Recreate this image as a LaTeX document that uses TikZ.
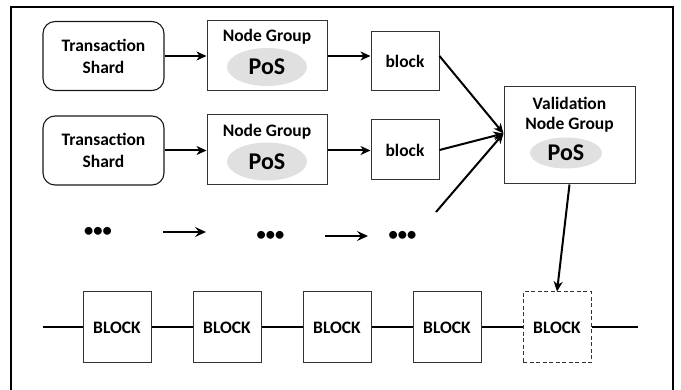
\documentclass[tikz,border=0pt]{standalone}
\usepackage{fontspec}
\setmainfont{Carlito}
\usetikzlibrary{shapes.geometric,arrows.meta}
\begin{document}
\begin{tikzpicture}[x=1pt,y=-1pt,
  lbl/.style={font=\bfseries\fontsize{17.5}{22}\selectfont, inner sep=0pt, align=center},
  shard/.style={draw=black!90, line width=1.1pt, rounded corners=12pt, minimum width=121pt, minimum height=69pt, lbl},
  grpbox/.style={draw=black!80, line width=1pt, minimum width=120pt, minimum height=70pt, inner sep=0pt},
  blk/.style={draw=black!80, line width=1pt, minimum width=68pt, minimum height=60pt, lbl},
  chainblk/.style={draw=black!80, line width=1pt, minimum width=68pt, minimum height=71pt, lbl},
  posell/.style={ellipse, fill=black!12, inner sep=0pt, font=\bfseries\fontsize{24}{26}\selectfont},
  dotsnode/.style={font=\bfseries\fontsize{18.5}{20}\selectfont, inner sep=0pt},
  arr/.style={line width=2pt, -{Stealth[length=10pt,width=9pt,inset=3pt]}},
  thinarr/.style={line width=1.6pt, -{Stealth[length=11pt,width=10pt,inset=4pt]}},
  chain/.style={line width=2pt}
]
\useasboundingbox (0,0) rectangle (681,390);
% outer frame
\draw[line width=1.4pt] (11,400) -- (11,7) -- (673,7) -- (673,400);

% row 1
\node[shard] (s1) at (103.5,56) {Transaction\\Shard};
\node[grpbox] (g1) at (267,55.5) {};
\node[lbl] (g1t) at (267,37) {Node Group};
\node[posell, minimum width=80pt, minimum height=38pt] (g1p) at (267,67) {PoS};
\node[blk, minimum height=59pt] (b1) at (405,61.5) {block};

% row 2
\node[shard] (s2) at (103.5,150.5) {Transaction\\Shard};
\node[grpbox] (g2) at (267,149.5) {};
\node[lbl] (g2t) at (267,132) {Node Group};
\node[posell, minimum width=80pt, minimum height=38pt] (g2p) at (267,161.5) {PoS};
\node[blk] (b2) at (405,150) {block};

% validation
\node[grpbox, minimum width=131pt, minimum height=97pt] (v) at (569.5,135.5) {};
\node[lbl] (vt1) at (569.5,103) {Validation};
\node[lbl] (vt2) at (569.5,125) {Node Group};
\node[posell, minimum width=72pt, minimum height=31pt] (vp) at (566,153) {PoS};

% dots row
\node[dotsnode] (d1) at (98,232) {•••};
\node[dotsnode] (d2) at (270.5,236) {•••};
\node[dotsnode] (d3) at (402.5,236) {•••};
\coordinate (a1s) at (163,232);
\coordinate (a1e) at (206,232);
\coordinate (a2s) at (325,236);
\coordinate (a2e) at (368,236);
\coordinate (d3up) at (436,212);
\draw[thinarr] (a1s) -- (a1e);
\draw[thinarr] (a2s) -- (a2e);

% chain
\node[chainblk] (c1) at (117,327.5) {BLOCK};
\node[chainblk] (c2) at (227,327.5) {BLOCK};
\node[chainblk] (c3) at (337,327.5) {BLOCK};
\node[chainblk] (c4) at (447,327.5) {BLOCK};
\node[chainblk, dashed, dash pattern=on 4pt off 2.5pt] (c5) at (557,327.5) {BLOCK};
\coordinate (cl) at (43,327.5);
\coordinate (cr) at (638,327.5);
\draw[chain] (cl) -- (c1.west);
\draw[chain] (c1.east) -- (c2.west);
\draw[chain] (c2.east) -- (c3.west);
\draw[chain] (c3.east) -- (c4.west);
\draw[chain] (c4.east) -- (c5.west);
\draw[chain] (c5.east) -- (cr);

% arrows
\draw[arr] (s1.east) -- (g1.west |- s1.east);
\draw[arr] (s2.east) -- (g2.west |- s2.east);
\draw[arr] (g1.east |- s1.east) -- (b1.west |- s1.east);
\draw[arr] (g2.east |- s2.east) -- (b2.west |- s2.east);
\draw[arr] (b1.east |- s1.east) -- ([yshift=2pt]v.west);
\draw[arr] (b2.east) -- ([yshift=2pt]v.west);
\draw[arr] (d3up) -- ([yshift=2pt]v.west);
\draw[arr] (v.south) -- (c5.north);
\end{tikzpicture}
\end{document}
